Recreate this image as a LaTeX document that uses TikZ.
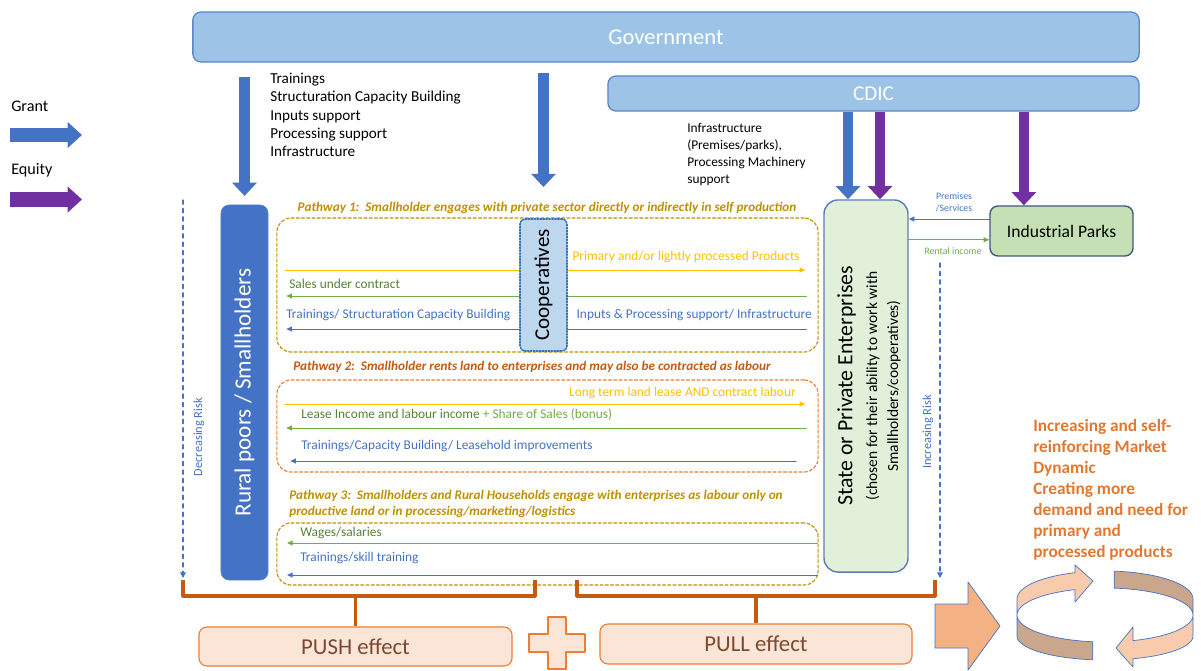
\documentclass[tikz,border=0pt]{standalone}
\usepackage{fontspec}
\setmainfont{Carlito}
\usetikzlibrary{arrows.meta}
\definecolor{govfill}{HTML}{9DC3E6}
\definecolor{govline}{HTML}{5B86C5}
\definecolor{gblue}{HTML}{4472C4}
\definecolor{gpurple}{HTML}{7030A0}
\definecolor{goldtxt}{HTML}{BF9000}
\definecolor{ortxt}{HTML}{C55A11}
\definecolor{orline}{HTML}{ED7D31}
\definecolor{yelc}{HTML}{FFC000}
\definecolor{grnc}{HTML}{70AD47}
\definecolor{grnd}{HTML}{548235}
\definecolor{statefill}{HTML}{E2F0D9}
\definecolor{stateline}{HTML}{5A7DB5}
\definecolor{parkfill}{HTML}{C5E0B4}
\definecolor{parkline}{HTML}{3E5C7D}
\definecolor{coopfill}{HTML}{BDD7EE}
\definecolor{coopline}{HTML}{2E75B6}
\definecolor{efffill}{HTML}{FBE5D6}
\definecolor{efftext}{HTML}{7A4A33}
\definecolor{bracecol}{HTML}{C55A11}
\definecolor{arrfill}{HTML}{F4B183}
\definecolor{cyclight}{HTML}{F8CBAD}
\definecolor{cycdark}{HTML}{C9A68C}
\definecolor{mktc}{HTML}{E2782F}
\begin{document}
\begin{tikzpicture}[x=0.025cm,y=-0.025cm,line cap=round,line join=round,
  govbox/.style={draw=govline,fill=govfill,rounded corners=0.2cm,line width=0.9pt,text=white,inner sep=0pt},
  grantarr/.style={color=gblue,line width=0.27cm,line cap=butt,-{Triangle[width=0.6cm,length=0.33cm]}},
  equityarr/.style={grantarr,color=gpurple},
  legarr/.style={line width=0.35cm,line cap=butt,-{Triangle[width=0.63cm,length=0.36cm]}},
  pathbox/.style={dash pattern=on 2.2pt off 1.5pt,rounded corners=0.35cm,line width=0.8pt,minimum width=13.525cm,inner sep=0pt},
  pathtxt/.style={font=\fontsize{9.4}{11.4}\selectfont\bfseries\itshape,inner sep=0pt},
  flow/.style={line width=0.7pt,-{Triangle[length=4pt,width=3.5pt]}},
  gap/.style={shorten <=0.42cm,shorten >=0.45cm},
  flowtxt/.style={font=\fontsize{9.5}{11}\selectfont,inner sep=0pt},
  smalltxt/.style={font=\fontsize{7}{8.5}\selectfont,inner sep=0pt},
  risktxt/.style={font=\fontsize{8.8}{10}\selectfont,inner sep=0pt,text=gblue,rotate=90},
  risk/.style={color=gblue,dashed,line width=0.9pt,-{Triangle[length=4pt,width=4pt]}},
  brace/.style={draw=bracecol,line width=2.2pt,line cap=butt},
  effectbox/.style={draw=orline,fill=efffill,rounded corners=0.2cm,line width=0.8pt,text=efftext,font=\fontsize{16.2}{18}\selectfont}]
  \useasboundingbox (0,0) rectangle (1201,670);

  % top boxes
  \node[govbox,minimum width=23.65cm,minimum height=1.25cm,font=\fontsize{16}{18}\selectfont] (gov) at (666,37) {Government};
  \node[govbox,minimum width=13.275cm,minimum height=0.875cm,font=\fontsize{15}{17}\selectfont] (cdic) at (873.5,93.5) {CDIC};

  % legend
  \node[anchor=west,font=\fontsize{11.5}{13}\selectfont,inner sep=0pt] (grant) at (11,106) {Grant};
  \node[anchor=west,font=\fontsize{11.5}{13}\selectfont,inner sep=0pt] (equity) at (11,170) {Equity};
  \coordinate (grantS) at (10,135);
  \coordinate (grantE) at (82,135);
  \coordinate (equityS) at (10,199.5);
  \coordinate (equityE) at (82,199.5);
  \draw[legarr,color=gblue] (grantS) -- (grantE);
  \draw[legarr,color=gpurple] (equityS) -- (equityE);

  % rural poors
  \node[draw=govline,fill=gblue,rounded corners=0.2cm,minimum width=1.175cm,minimum height=9.375cm,inner sep=0pt] (rural) at (244.5,392.5) {};
  \node[rotate=90,text=white,font=\fontsize{16.5}{18}\selectfont] (ruraltxt) at (rural.center) {Rural poors / Smallholders};

  % pathways
  \node[pathbox,draw=goldtxt,minimum height=3.35cm] (p1) at (547.5,285) {};
  \node[pathbox,draw=orline,minimum height=2.3cm] (p2) at (547.5,426) {};
  \node[pathbox,draw=goldtxt,minimum height=1.55cm] (p3) at (547.5,554) {};
  \node[pathtxt,text=goldtxt] (p1lbl) at (547,208) {Pathway 1:\ \ Smallholder engages with private sector directly or indirectly in self production};
  \node[pathtxt,text=ortxt] (p2lbl) at (532,367) {Pathway 2:\ \ Smallholder rents land to enterprises and may also be contracted as labour};
  \node[pathtxt,text=goldtxt,anchor=north west,align=left] (p3lbl) at (289,490) {Pathway 3:\ \ Smallholders and Rural Households engage with enterprises as labour only on\\productive land or in processing/marketing/logistics};

  % enterprises and parks
  \node[draw=stateline,fill=statefill,rounded corners=0.35cm,line width=1pt,minimum width=2.1cm,minimum height=9.3cm,inner sep=0pt] (state) at (866,386) {};
  \node[rotate=90,align=center,font=\fontsize{11}{15}\selectfont] (statetxt) at (869,386) {{\fontsize{15.5}{17}\selectfont State or Private Enterprises}\\[2.5pt](chosen for their ability to work with\\Smallholders/cooperatives)};
  \node[draw=parkline,fill=parkfill,rounded corners=0.2cm,line width=1pt,minimum width=3.575cm,minimum height=1.25cm,font=\fontsize{12.5}{14}\selectfont] (park) at (1061.5,231) {Industrial Parks};

  % flows pathway 1
  \draw[flow,color=yelc,gap] (rural.east |- 0,270) -- (state.west |- 0,270);
  \draw[flow,color=grnc,gap] (state.west |- 0,296) -- (rural.east |- 0,296);
  \draw[flow,color=gblue,gap] (state.west |- 0,329) -- (rural.east |- 0,329);
  \node[flowtxt,text=yelc,anchor=east] (prodlbl) at (800,257) {Primary and/or lightly processed Products};
  \node[flowtxt,text=grnd,anchor=west] (saleslbl) at (289,284) {Sales under contract};
  \node[flowtxt,text=gblue,anchor=west] (trainlbl) at (286,315) {Trainings/ Structuration Capacity Building};
  \node[flowtxt,text=gblue,anchor=east] (inputlbl) at (812,315) {Inputs \& Processing support/ Infrastructure};
  \node[draw=coopline,fill=coopfill,densely dotted,line width=1.1pt,rounded corners=0.12cm,minimum width=1.175cm,minimum height=3.3cm,inner sep=0pt] (coop) at (543.5,285) {};
  \node[rotate=90,font=\fontsize{15}{17}\selectfont] (cooptxt) at (coop.center) {Cooperatives};

  % flows pathway 2
  \draw[flow,color=yelc,gap] (rural.east |- 0,404) -- (state.west |- 0,404);
  \draw[flow,color=grnc,gap] (state.west |- 0,428) -- (rural.east |- 0,428);
  \draw[flow,color=gblue,shorten <=0.68cm,shorten >=0.55cm] (state.west |- 0,461) -- (rural.east |- 0,461);
  \node[flowtxt,text=yelc,anchor=east] (leaselbl) at (796,393) {Long term land lease AND contract labour};
  \node[flowtxt,anchor=west] (incomelbl) at (301,415) {\textcolor{grnd}{Lease Income and labour income} \textcolor{grnc}{+ Share of Sales (bonus)}};
  \node[flowtxt,text=gblue,anchor=west] (leaseholdlbl) at (301,446) {Trainings/Capacity Building/ Leasehold improvements};

  % flows pathway 3
  \draw[flow,color=grnc,shorten <=0.15cm,shorten >=0.47cm] (state.west |- 0,543) -- (rural.east |- 0,543);
  \draw[flow,color=gblue,shorten <=0.15cm,shorten >=0.47cm] (state.west |- 0,575) -- (rural.east |- 0,575);
  \node[flowtxt,text=grnd,anchor=west] (wagelbl) at (300,533) {Wages/salaries};
  \node[flowtxt,text=gblue,anchor=west] (skilllbl) at (300,558) {Trainings/skill training};

  % grant and equity arrows
  \draw[grantarr,shorten <=0.35cm,shorten >=0.22cm] (rural.north |- gov.south) -- (rural.north);
  \draw[grantarr,shorten <=0.25cm,shorten >=0.78cm] (coop.north |- gov.south) -- (coop.north);
  \coordinate (sg) at ([xshift=-0.45cm]state.north);
  \coordinate (se) at ([xshift=0.35cm]state.north);
  \coordinate (pe) at ([xshift=-0.94cm]park.north);
  \draw[grantarr] (cdic.south -| sg) -- (sg);
  \draw[equityarr] (cdic.south -| se) -- (se);
  \draw[equityarr] (cdic.south -| pe) -- (pe);
  \node[anchor=north west,align=left,font=\fontsize{10.8}{12.9}\selectfont,inner sep=0pt] (govlist) at (270,73) {Trainings\\Structuration Capacity Building\\Inputs support\\Processing support\\Infrastructure};
  \node[anchor=north west,align=left,font=\fontsize{9.5}{12.1}\selectfont,inner sep=0pt] (cdiclist) at (687,123) {Infrastructure\\(Premises/parks),\\Processing Machinery\\support};

  % park links
  \coordinate (pk1) at ([yshift=0.3cm]park.west);
  \coordinate (pk2) at ([yshift=-0.22cm]park.west);
  \draw[flow,color=gblue] (pk1) -- (pk1 -| state.east);
  \draw[flow,color=grnc] (pk2 -| state.east) -- (pk2);
  \node[smalltxt,text=gblue,align=center] (premlbl) at (954,202) {Premises\\/Services};
  \node[smalltxt,text=grnc] (rentlbl) at (953,251) {Rental income};

  % risk
  \coordinate (decTop) at (183,200);
  \coordinate (decBot) at (183,578);
  \coordinate (incTop) at (940,263);
  \coordinate (incBot) at (940,578);
  \draw[risk] (decTop) -- (decBot);
  \draw[risk] (incTop) -- (incBot);
  \node[risktxt] (declbl) at (199,437) {Decreasing Risk};
  \node[risktxt] (inclbl) at (928,432) {Increasing Risk};

  % push and pull
  \node[effectbox,minimum width=7.825cm,minimum height=0.975cm] (push) at (355.5,646.5) {PUSH effect};
  \node[effectbox,minimum width=7.8cm,minimum height=1cm] (pull) at (756,644) {PULL effect};
  \draw[brace] (183,580) -- (183,596) -- (535,596) -- (535,580);
  \draw[brace] (push.north) -- (push.north |- 0,596);
  \draw[brace] (577,580) -- (577,596) -- (935,596) -- (935,580);
  \draw[brace] (pull.north) -- (pull.north |- 0,596);
  \draw[draw=orline,fill=efffill,line width=0.8pt] (548,617) -- (566,617) -- (566,634) -- (585,634) -- (585,652) -- (566,652) -- (566,669) -- (548,669) -- (548,652) -- (529,652) -- (529,634) -- (548,634) -- cycle;

  % market dynamic
  \draw[draw=gblue,fill=arrfill,line width=0.5pt] (935,604) -- (968,604) -- (968,582) -- (1000,626) -- (968,670) -- (968,648) -- (935,648) -- cycle;
  \node[anchor=north west,align=left,text=mktc,font=\fontsize{12.3}{14.9}\selectfont\bfseries,inner sep=0pt] (market) at (1033,419) {Increasing and self-\\reinforcing Market\\Dynamic\\Creating more\\demand and need for\\primary and\\processed products};
  \draw[draw=gblue,fill=cycdark,line width=0.5pt] plot[domain=180:98,samples=25,variable=\t] ({1105+88*cos(\t)},{615+27*sin(\t)}) -- plot[domain=98:180,samples=25,variable=\t] ({1105+88*cos(\t)},{636+24*sin(\t)}) -- cycle;
  \draw[draw=gblue,fill=cycdark,line width=0.5pt] plot[domain=276:360,samples=25,variable=\t] ({1105+88*cos(\t)},{599+28*sin(\t)}) -- plot[domain=360:276,samples=25,variable=\t] ({1105+88*cos(\t)},{615+27*sin(\t)}) -- cycle;
  \draw[draw=gblue,fill=cyclight,line width=0.5pt] plot[domain=180:250,samples=25,variable=\t] ({1105+88*cos(\t)},{599+28*sin(\t)}) -- (1075,565) -- (1093,581) -- (1075,602) -- plot[domain=250:180,samples=25,variable=\t] ({1105+88*cos(\t)},{615+27*sin(\t)}) -- cycle;
  \draw[draw=gblue,fill=cyclight,line width=0.5pt] plot[domain=0:71.4,samples=25,variable=\t] ({1105+88*cos(\t)},{615+27*sin(\t)}) -- (1133,627) -- (1116,648) -- (1133,667) -- plot[domain=71.4:0,samples=25,variable=\t] ({1105+88*cos(\t)},{636+24*sin(\t)}) -- cycle;
\end{tikzpicture}
\end{document}
